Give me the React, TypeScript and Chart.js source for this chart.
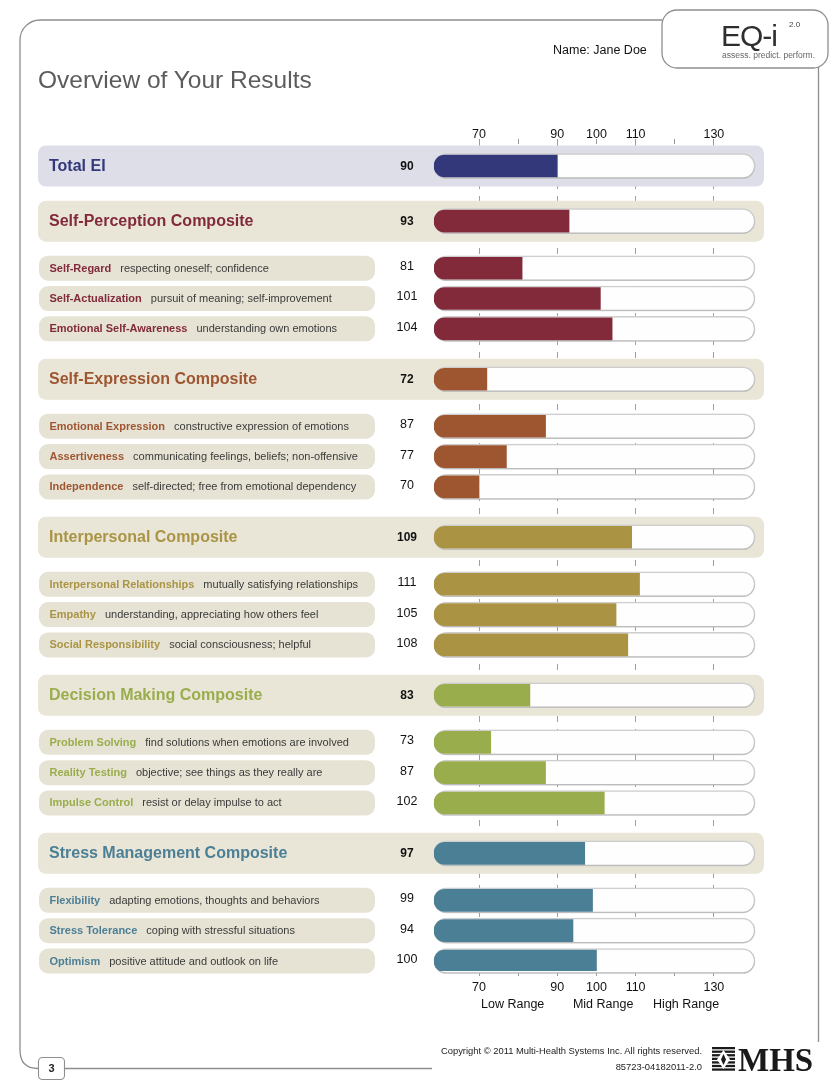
import React, { useEffect, useRef } from 'react';
import { Chart, registerables } from 'chart.js';

Chart.register(...registerables);

// ---------------- data ----------------
const TOTAL_LABEL = 'Total EI';
const TOTAL_SCORE = 90;
const TOTAL_COLOR = '#32387a';

const COMPOSITES = [
  'Self-Perception Composite',
  'Self-Expression Composite',
  'Interpersonal Composite',
  'Decision Making Composite',
  'Stress Management Composite',
];
const COMPOSITE_SCORES = [93, 72, 109, 83, 97];
const COMPOSITE_COLORS = ['#822a3a', '#9e5631', '#aa9444', '#9aad4c', '#4b7f96'];

const SUBSCALES = [
  ['Self-Regard', 'Self-Actualization', 'Emotional Self-Awareness'],
  ['Emotional Expression', 'Assertiveness', 'Independence'],
  ['Interpersonal Relationships', 'Empathy', 'Social Responsibility'],
  ['Problem Solving', 'Reality Testing', 'Impulse Control'],
  ['Flexibility', 'Stress Tolerance', 'Optimism'],
];
const SUBSCALE_DESCRIPTIONS = [
  ['respecting oneself; confidence', 'pursuit of meaning; self-improvement', 'understanding own emotions'],
  ['constructive expression of emotions', 'communicating feelings, beliefs; non-offensive', 'self-directed; free from emotional dependency'],
  ['mutually satisfying relationships', 'understanding, appreciating how others feel', 'social consciousness; helpful'],
  ['find solutions when emotions are involved', 'objective; see things as they really are', 'resist or delay impulse to act'],
  ['adapting emotions, thoughts and behaviors', 'coping with stressful situations', 'positive attitude and outlook on life'],
];
const SUBSCALE_SCORES = [
  [81, 101, 104],
  [87, 77, 70],
  [111, 105, 108],
  [73, 87, 102],
  [99, 94, 100],
];

const AXIS_MIN = 58.5;
const AXIS_MAX = 140.5;
const TICK_VALUES = [70, 80, 90, 100, 110, 120, 130];
const LABELED_TICKS = [70, 90, 100, 110, 130];
const GRID_VALUES = [70, 90, 110, 130];
const RANGE_LABELS = ['Low Range', 'Mid Range', 'High Range'];
const RANGE_CENTERS = [78.6, 101.7, 122.9];

// ---------------- layout (row spacing in row units) ----------------
const GAP_ROW = 1;
const GAP_HEAD = 1.55;
const GAP_GROUP = 1.66;
const GAP_TOTAL = 1.82;

type Row = {
  kind: 'total' | 'composite' | 'sub';
  label: string;
  desc: string;
  score: number;
  color: string;
  pos: number;
};

function buildRows(): Row[] {
  const rows: Row[] = [];
  let pos = 0;
  rows.push({ kind: 'total', label: TOTAL_LABEL, desc: '', score: TOTAL_SCORE, color: TOTAL_COLOR, pos });
  pos += GAP_TOTAL;
  COMPOSITES.forEach((c, g) => {
    if (g > 0) pos += GAP_GROUP;
    rows.push({ kind: 'composite', label: c, desc: '', score: COMPOSITE_SCORES[g], color: COMPOSITE_COLORS[g], pos });
    pos += GAP_HEAD;
    SUBSCALES[g].forEach((s, i) => {
      if (i > 0) pos += GAP_ROW;
      rows.push({
        kind: 'sub',
        label: s,
        desc: SUBSCALE_DESCRIPTIONS[g][i],
        score: SUBSCALE_SCORES[g][i],
        color: COMPOSITE_COLORS[g],
        pos,
      });
    });
  });
  return rows;
}

const ROWS = buildRows();
const Y_MIN = -0.725;
const Y_MAX = ROWS[ROWS.length - 1].pos + 0.33;

const FONT = '"Liberation Sans", Arial, Helvetica, sans-serif';

function rr(ctx: CanvasRenderingContext2D, x: number, y: number, w: number, h: number, r: number) {
  ctx.beginPath();
  ctx.moveTo(x + r, y);
  ctx.lineTo(x + w - r, y);
  ctx.arcTo(x + w, y, x + w, y + r, r);
  ctx.lineTo(x + w, y + h - r);
  ctx.arcTo(x + w, y + h, x + w - r, y + h, r);
  ctx.lineTo(x + r, y + h);
  ctx.arcTo(x, y + h, x, y + h - r, r);
  ctx.lineTo(x, y + r);
  ctx.arcTo(x, y, x + r, y, r);
  ctx.closePath();
}

const decorPlugin = {
  id: 'eqDecor',
  beforeDraw(chart: any) {
    const ctx: CanvasRenderingContext2D = chart.ctx;
    ctx.save();
    ctx.strokeStyle = '#8e8e8e';
    ctx.lineWidth = 1.3;
    // page frame
    ctx.beginPath();
    ctx.moveTo(662, 20);
    ctx.lineTo(40, 20);
    ctx.arcTo(20, 20, 20, 40, 20);
    ctx.lineTo(20, 1050);
    ctx.quadraticCurveTo(20, 1068.5, 38, 1068.5);
    ctx.stroke();
    ctx.beginPath();
    ctx.moveTo(64, 1068.5);
    ctx.lineTo(432, 1068.5);
    ctx.stroke();
    ctx.beginPath();
    ctx.moveTo(818.5, 66);
    ctx.lineTo(818.5, 1042);
    ctx.stroke();
    // logo box
    rr(ctx, 662, 10, 166, 58, 15);
    ctx.fillStyle = '#ffffff';
    ctx.fill();
    ctx.stroke();
    // page number box
    ctx.lineWidth = 1.1;
    rr(ctx, 38.5, 1057.5, 26, 22, 4);
    ctx.fillStyle = '#ffffff';
    ctx.fill();
    ctx.stroke();
    // MHS emblem
    ctx.fillStyle = '#1a1a1a';
    const ex = 712, ey = 1047, ew = 23, eh = 25;
    for (let i = 0; i < 7; i++) {
      ctx.fillRect(ex, ey + i * (eh / 7), ew, eh / 7 - 1.3);
    }
    ctx.fillStyle = '#ffffff';
    ctx.beginPath();
    ctx.moveTo(ex + ew / 2, ey + 3);
    ctx.lineTo(ex + ew - 5, ey + eh / 2);
    ctx.lineTo(ex + ew / 2, ey + eh - 3);
    ctx.lineTo(ex + 5, ey + eh / 2);
    ctx.closePath();
    ctx.fill();
    ctx.fillStyle = '#1a1a1a';
    ctx.beginPath();
    ctx.moveTo(ex + ew / 2, ey + 7);
    ctx.lineTo(ex + ew - 9, ey + eh / 2);
    ctx.lineTo(ex + ew / 2, ey + eh - 7);
    ctx.lineTo(ex + 9, ey + eh / 2);
    ctx.closePath();
    ctx.fill();
    ctx.restore();
  },
  beforeDatasetsDraw(chart: any) {
    const ctx: CanvasRenderingContext2D = chart.ctx;
    const y = chart.scales.y;
    const area = chart.chartArea;
    ctx.save();
    ROWS.forEach((r) => {
      const cy = y.getPixelForValue(r.pos);
      if (r.kind === 'sub') {
        rr(ctx, 39, cy - 12.5, 336, 25, 9);
        ctx.fillStyle = '#e6e3d5';
      } else {
        rr(ctx, 38, cy - 20.5, area.right + 9 - 38, 41, 8);
        ctx.fillStyle = r.kind === 'total' ? '#dddee7' : '#e9e6d8';
      }
      ctx.fill();
    });
    ctx.restore();
  },
  beforeDatasetDraw(chart: any, args: any) {
    if (args.index === 1) {
      const ctx = chart.ctx;
      ctx.save();
      ctx.shadowColor = 'rgba(0,0,0,0.18)';
      ctx.shadowBlur = 3;
      ctx.shadowOffsetY = 1;
    }
  },
  afterDatasetDraw(chart: any, args: any) {
    if (args.index === 1) chart.ctx.restore();
  },
  afterDatasetsDraw(chart: any) {
    const ctx: CanvasRenderingContext2D = chart.ctx;
    const y = chart.scales.y;
    ctx.save();
    ctx.textBaseline = 'middle';
    ROWS.forEach((r) => {
      const cy = y.getPixelForValue(r.pos);
      if (r.kind === 'sub') {
        ctx.textAlign = 'left';
        ctx.font = `bold 11px ${FONT}`;
        ctx.fillStyle = r.color;
        ctx.fillText(r.label, 49.5, cy + 0.5);
        const w = ctx.measureText(r.label).width;
        ctx.font = `11px ${FONT}`;
        ctx.fillStyle = '#3a3a3a';
        ctx.fillText(r.desc, 49.5 + w + 9, cy + 0.5);
        ctx.textAlign = 'center';
        ctx.font = `12.5px ${FONT}`;
        ctx.fillStyle = '#111111';
        ctx.fillText(String(r.score), 407, cy - 1.5);
      } else {
        ctx.textAlign = 'left';
        ctx.font = `bold 16px ${FONT}`;
        ctx.fillStyle = r.color;
        ctx.fillText(r.label, 49, cy + 0.5);
        ctx.textAlign = 'center';
        ctx.font = `bold 12px ${FONT}`;
        ctx.fillStyle = '#111111';
        ctx.fillText(String(r.score), 407, cy + 0.5);
      }
    });
    ctx.restore();
  },
  afterDraw(chart: any) {
    const ctx: CanvasRenderingContext2D = chart.ctx;
    const x2 = chart.scales.x2;
    ctx.save();
    ctx.font = `12.5px ${FONT}`;
    ctx.fillStyle = '#111111';
    ctx.textAlign = 'center';
    ctx.textBaseline = 'middle';
    RANGE_LABELS.forEach((t, i) => {
      ctx.fillText(t, x2.getPixelForValue(RANGE_CENTERS[i]), x2.bottom + 10);
    });
    ctx.restore();
  },
};

const tickCb = (v: any) => (LABELED_TICKS.includes(Number(v)) ? String(v) : '');

export default function App() {
  const ref = useRef<HTMLCanvasElement | null>(null);

  useEffect(() => {
    if (!ref.current) return;
    const chart = new Chart(ref.current, {
      type: 'bar',
      data: {
        datasets: [
          {
            label: 'Score',
            data: ROWS.map((r) => ({ x: [AXIS_MIN, r.score], y: r.pos })) as any,
            backgroundColor: ROWS.map((r) => r.color),
            borderWidth: 0,
            borderSkipped: false,
            borderRadius: { topLeft: 11, bottomLeft: 11, topRight: 0, bottomRight: 0 },
            barThickness: 22,
            grouped: false,
            order: 1,
            xAxisID: 'x',
            yAxisID: 'y',
          } as any,
          {
            label: 'Range',
            data: ROWS.map((r) => ({ x: [AXIS_MIN, AXIS_MAX], y: r.pos })) as any,
            backgroundColor: '#fefefe',
            borderColor: '#d3d3d3',
            borderWidth: 1.5,
            borderSkipped: false,
            borderRadius: 13,
            barThickness: 25,
            grouped: false,
            order: 2,
            clip: false,
            xAxisID: 'x',
            yAxisID: 'y',
          } as any,
        ],
      },
      options: {
        indexAxis: 'y',
        responsive: false,
        animation: false,
        devicePixelRatio: 1,
        layout: { padding: { left: 434, right: 77, top: 120, bottom: 94 } },
        plugins: { legend: { display: false }, tooltip: { enabled: false } },
        scales: {
          y: {
            type: 'linear',
            display: false,
            reverse: true,
            offset: false,
            grid: { offset: false },
            min: Y_MIN,
            max: Y_MAX,
          },
          x: {
            type: 'linear',
            position: 'top',
            min: AXIS_MIN,
            max: AXIS_MAX,
            afterBuildTicks: (a: any) => {
              a.ticks = TICK_VALUES.map((v) => ({ value: v }));
            },
            afterFit: (s: any) => {
              s.height = 24;
            },
            grid: {
              drawOnChartArea: true,
              color: (c: any) => (c.tick && GRID_VALUES.includes(c.tick.value) ? '#a0a0a0' : 'rgba(0,0,0,0)'),
              lineWidth: 1,
              tickColor: '#9a9a9a',
              tickLength: 5,
              tickWidth: 1,
            },
            border: { display: false, dash: [6, 7] },
            ticks: {
              callback: tickCb,
              padding: -2,
              color: '#111111',
              font: { family: FONT, size: 12.5, lineHeight: 1 },
              maxRotation: 0,
              autoSkip: false,
            },
          },
          x2: {
            type: 'linear',
            axis: 'x',
            position: 'bottom',
            min: AXIS_MIN,
            max: AXIS_MAX,
            afterBuildTicks: (a: any) => {
              a.ticks = TICK_VALUES.map((v) => ({ value: v }));
            },
            afterFit: (s: any) => {
              s.height = 24;
            },
            grid: {
              drawOnChartArea: false,
              tickColor: '#9a9a9a',
              tickLength: 5,
              tickWidth: 1,
            },
            border: { display: false },
            ticks: {
              callback: tickCb,
              padding: 5.5,
              color: '#111111',
              font: { family: FONT, size: 12.5, lineHeight: 1 },
              maxRotation: 0,
              autoSkip: false,
            },
          },
        } as any,
      },
      plugins: [decorPlugin as any],
    });
    return () => chart.destroy();
  }, []);

  const abs = (extra: React.CSSProperties): React.CSSProperties => ({
    position: 'absolute',
    whiteSpace: 'nowrap',
    lineHeight: 1,
    fontFamily: FONT,
    margin: 0,
    ...extra,
  });

  return (
    <div>
      <canvas
        ref={ref}
        width={832}
        height={1089}
        style={{ position: 'absolute', left: 0, top: 0, width: 832, height: 1089 }}
      />
      <div style={abs({ left: 38, top: 68.3, fontSize: 24.5, color: '#5c5c5c' })}>Overview of Your Results</div>
      <div style={abs({ left: 553, top: 44.4, fontSize: 12.5, color: '#111' })}>Name: Jane Doe</div>
      <div style={abs({ left: 721, top: 21.3, fontSize: 30, color: '#2e2e2e', letterSpacing: -1 })}>EQ-i</div>
      <div style={abs({ left: 789, top: 21.2, fontSize: 8, color: '#444' })}>2.0</div>
      <div style={abs({ left: 722, top: 50.8, fontSize: 8.5, color: '#666' })}>assess. predict. perform.</div>
      <div style={abs({ left: 402, width: 300, textAlign: 'right', top: 1045.9, fontSize: 9.4, color: '#222' })}>
        Copyright © 2011 Multi-Health Systems Inc. All rights reserved.
      </div>
      <div style={abs({ left: 402, width: 300, textAlign: 'right', top: 1062.4, fontSize: 9.4, color: '#222' })}>
        85723-04182011-2.0
      </div>
      <div
        style={abs({
          left: 738,
          top: 1044.4,
          fontSize: 33,
          fontWeight: 'bold',
          fontFamily: '"Liberation Serif", "Times New Roman", serif',
          color: '#1a1a1a',
        })}
      >
        MHS
      </div>
      <div style={abs({ left: 38.5, width: 26, textAlign: 'center', top: 1063, fontSize: 11, fontWeight: 'bold', color: '#222' })}>
        3
      </div>
    </div>
  );
}
